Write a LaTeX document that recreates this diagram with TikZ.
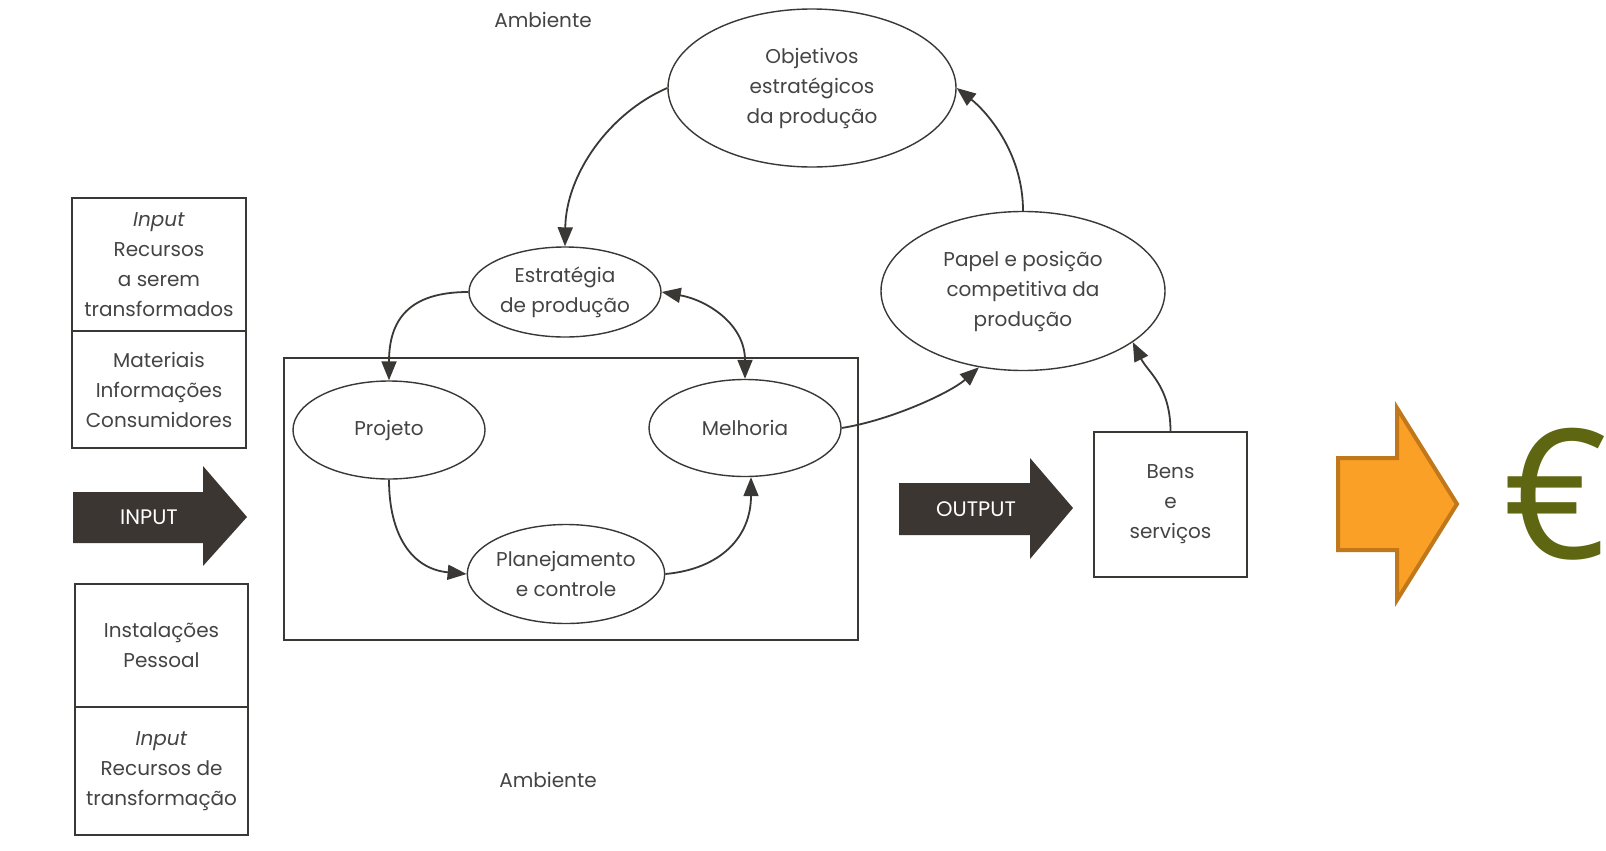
\documentclass[tikz,border=0pt]{standalone}
\usepackage{fontspec}
\setmainfont{Poppins}
\newfontfamily\eurofont{Open Sans}
\usetikzlibrary{shapes.geometric,arrows.meta}
\definecolor{ink}{HTML}{3A3835}
\definecolor{txt}{HTML}{444444}
\definecolor{dark}{HTML}{3B3631}
\definecolor{orfill}{HTML}{FBA026}
\definecolor{orline}{HTML}{C0781A}
\definecolor{eurogreen}{HTML}{5E6611}
\begin{document}
\begin{tikzpicture}[x=0.5pt,y=-0.5pt,
  every node/.style={font=\fontsize{10}{15}\selectfont, text=txt, align=center},
  ell/.style={ellipse, draw=ink, line width=0.7pt, inner sep=0pt},
  box/.style={rectangle, draw=ink, line width=0.7pt, inner sep=0pt},
  >={Triangle[length=9.5pt,width=7.5pt]},
  conn/.style={draw=ink, line width=0.9pt, ->},
  bigarrow/.style={fill=dark},
  lbl/.style={text=white, font=\fontsize{10.5}{12}\selectfont}
]
\useasboundingbox (0,0) rectangle (1606,851);
\fill[white] (0,0) rectangle (1606,851);

% left boxes
\node[box, minimum width=87pt, minimum height=66.5pt] (top1) at (159,264.5) {\textit{Input}\\Recursos\\a serem\\transformados};
\node[box, minimum width=87pt, minimum height=58.5pt] (top2) at (159,389.5) {Materiais\\Informações\\Consumidores};
\node[box, minimum width=86.5pt, minimum height=61.5pt] (bot1) at (161.5,645.5) {Instalações\\Pessoal};
\node[box, minimum width=86.5pt, minimum height=64pt] (bot2) at (161.5,771) {\textit{Input}\\Recursos de\\transformação};

% INPUT arrow
\fill[bigarrow] (73,492) -- (203,492) -- (203,466) -- (247,517) -- (203,566) -- (203,543) -- (73,543) -- cycle;
\node[lbl] (inlbl) at (149,517) {INPUT};

% ambiente labels
\node (amb1) at (543,20) {Ambiente};
\node (amb2) at (548,780) {Ambiente};

% central frame
\node[box, minimum width=287pt, minimum height=141pt] (frame) at (571,499) {};

% ellipses
\node[ell, minimum width=144pt, minimum height=79pt] (obj) at (812,88) {Objetivos\\estratégicos\\da produção};
\node[ell, minimum width=96pt, minimum height=45pt] (est) at (565,292) {Estratégia\\de produção};
\node[ell, minimum width=96pt, minimum height=49pt] (proj) at (389,430) {Projeto};
\node[ell, minimum width=96pt, minimum height=48.5pt] (mel) at (745,428) {Melhoria};
\node[ell, minimum width=95pt, minimum height=49.5pt] (plan) at (566,574) {Planejamento\\e controle};
\node[ell, minimum width=142pt, minimum height=79.5pt] (pap) at (1023,291) {Papel e posição\\competitiva da\\produção};

% output
\fill[bigarrow] (899,483) -- (1030,483) -- (1030,458) -- (1073,508) -- (1030,559) -- (1030,535) -- (899,535) -- cycle;
\node[lbl] (outlbl) at (976,509) {OUTPUT};
\node[box, minimum width=76.5pt, minimum height=72.5pt] (bens) at (1170.5,504.5) {Bens\\e\\serviços};

% connectors
\draw[conn] (obj.west) .. controls +(-58,25) and +(1,-72) .. (est.north);
\draw[conn] (est.west) .. controls +(-60,0) and +(0,-60) .. (proj.north);
\draw[conn, <->] (est.east) .. controls +(45,8) and +(0,-55) .. (mel.north);
\draw[conn] (proj.south) .. controls +(0,55) and +(-55,-5) .. (plan.west);
\draw[conn] (plan.east) .. controls +(55,-5) and +(0,60) .. ([xshift=3pt]mel.south);
\draw[conn] (mel.east) .. controls +(50,-8) and +(-28,25) .. (pap.240);
\draw[conn] (bens.north) .. controls +(0,-45) and +(15,30) .. (pap.335);
\draw[conn] (pap.north) .. controls +(0,-60) and +(28,22) .. (obj.east);

% orange arrow and euro
\filldraw[fill=orfill, draw=orline, line width=2pt, line join=miter] (1338,458) -- (1397,458) -- (1397,408) -- (1457,504) -- (1397,600) -- (1397,550) -- (1338,550) -- cycle;
\node[text=eurogreen, font=\eurofont\fontsize{90}{90}\selectfont, inner sep=0pt] (euro) at (1556,494) {€};
\end{tikzpicture}
\end{document}
